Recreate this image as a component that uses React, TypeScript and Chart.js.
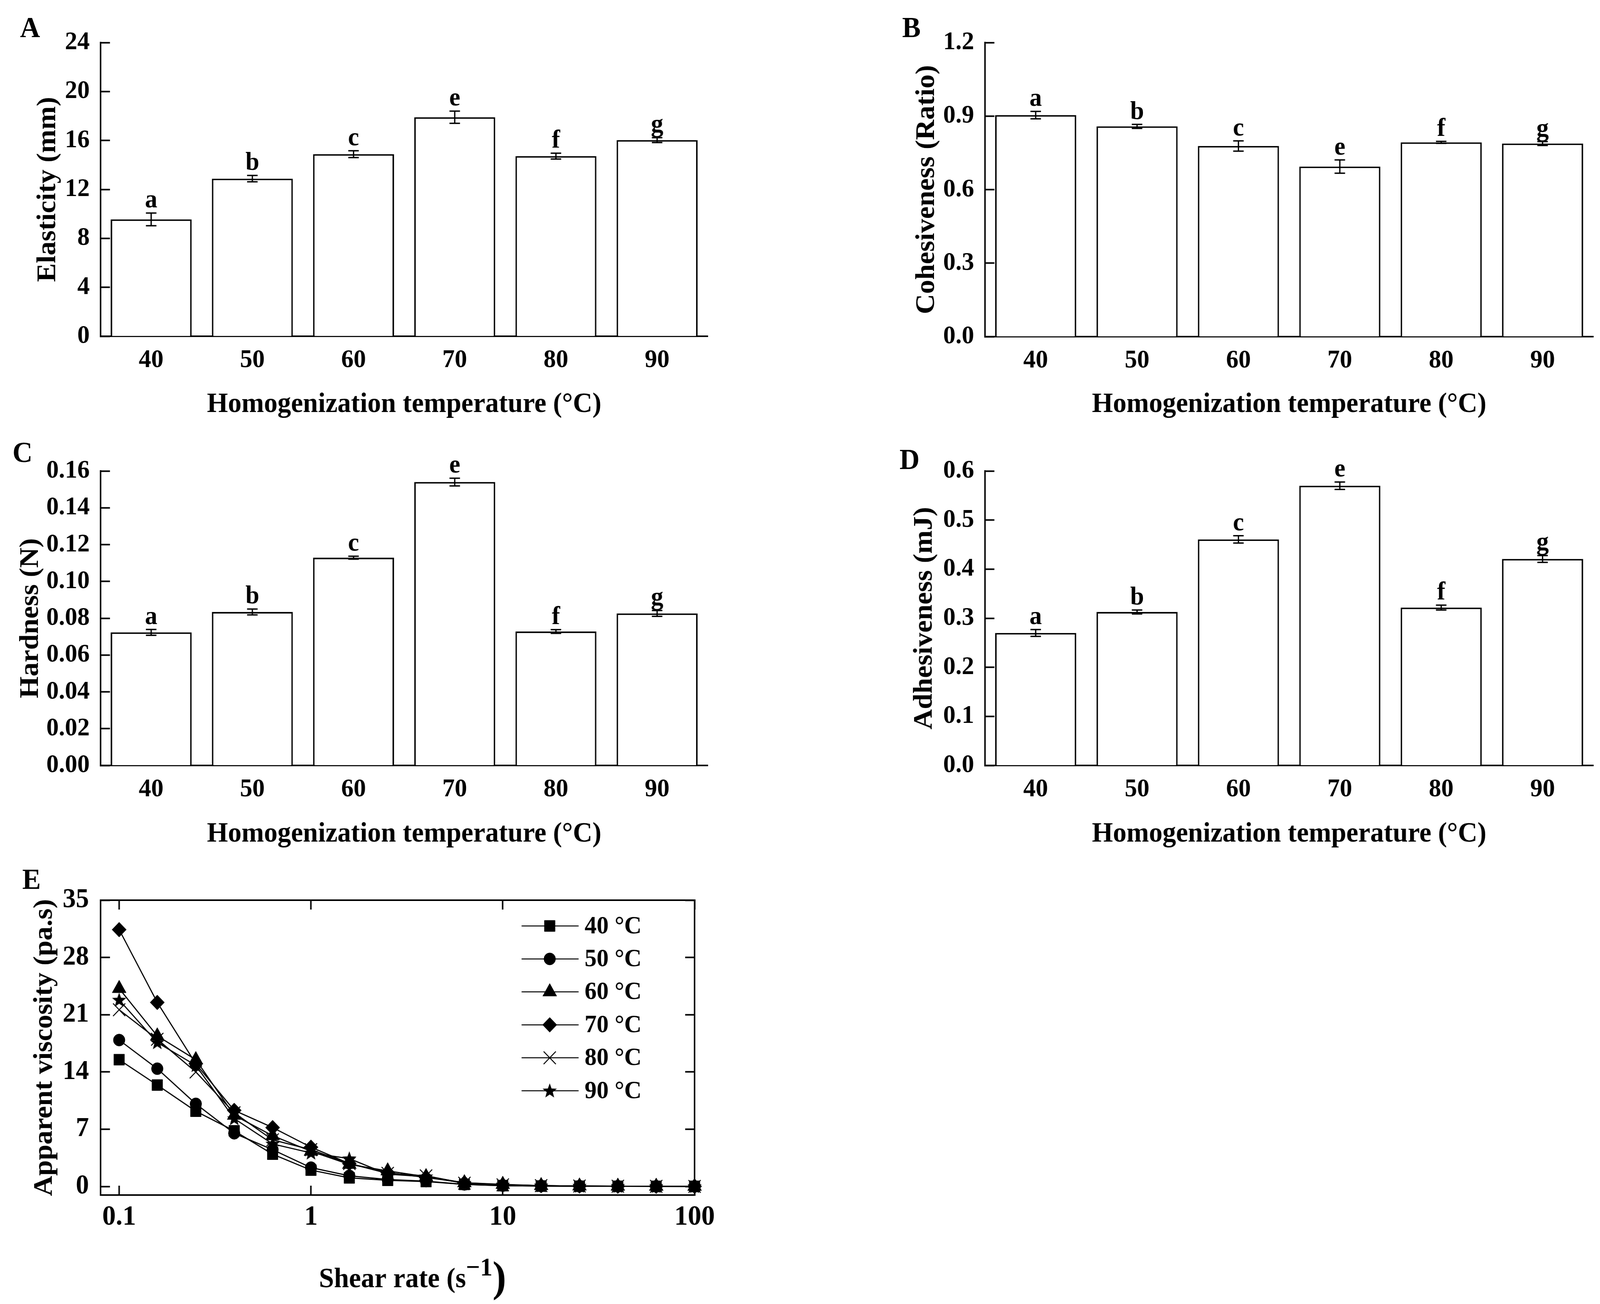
import { useEffect, useRef } from "react"
import { Chart, registerables } from "chart.js"
import { drawPoint } from "chart.js/helpers"

Chart.register(...registerables)

const SERIF = '"Liberation Serif", "Times New Roman", Times, serif'

// 均质温度
const temperatures = ["40", "50", "60", "70", "80", "90"]
const letters = ["a", "b", "c", "e", "f", "g"]

// A 弹性
const elasticity = [9.55, 12.88, 14.88, 17.9, 14.72, 16.03]
const elasticityErr = [0.52, 0.26, 0.28, 0.5, 0.24, 0.2]
const elasticityTicks = [0, 4, 8, 12, 16, 20, 24]

// B 内聚性
const cohesiveness = [0.904, 0.858, 0.778, 0.694, 0.793, 0.788]
const cohesivenessErr = [0.015, 0.008, 0.021, 0.027, 0.004, 0.008]
const cohesivenessTicks = [0, 0.3, 0.6, 0.9, 1.2]

// C 硬度
const hardness = [0.0723, 0.0834, 0.1129, 0.154, 0.0728, 0.0826]
const hardnessErr = [0.0016, 0.0016, 0.0008, 0.0021, 0.001, 0.0016]
const hardnessTicks = [0, 0.02, 0.04, 0.06, 0.08, 0.1, 0.12, 0.14, 0.16]

// D 黏附性
const adhesiveness = [0.27, 0.3127, 0.4606, 0.57, 0.3217, 0.4208]
const adhesivenessErr = [0.007, 0.004, 0.0075, 0.0075, 0.005, 0.007]
const adhesivenessTicks = [0, 0.1, 0.2, 0.3, 0.4, 0.5, 0.6]

// E 表观黏度
const shearRates = [0.1, 0.158, 0.251, 0.398, 0.631, 1, 1.585, 2.512, 3.981, 6.31, 10, 15.85, 25.12, 39.81, 63.1, 100]
const seriesLabels = ["40 °C", "50 °C", "60 °C", "70 °C", "80 °C", "90 °C"]
const visc40 = [15.5, 12.4, 9.2, 6.8, 3.95, 2.0, 1.05, 0.75, 0.6, 0.25, 0.1, 0.05, 0.03, 0.02, 0.01, 0.01]
const visc50 = [17.9, 14.4, 10.1, 6.5, 4.5, 2.3, 1.3, 0.85, 0.65, 0.25, 0.1, 0.05, 0.03, 0.02, 0.01, 0.01]
const visc60 = [24.2, 18.4, 15.5, 8.7, 6.2, 4.3, 2.7, 1.9, 1.2, 0.45, 0.25, 0.1, 0.05, 0.03, 0.02, 0.01]
const visc70 = [31.4, 22.5, 15.0, 9.3, 7.2, 4.8, 2.8, 1.7, 1.1, 0.45, 0.2, 0.1, 0.05, 0.03, 0.02, 0.01]
const visc80 = [21.6, 18.0, 14.0, 9.0, 5.7, 4.5, 2.8, 1.6, 1.3, 0.4, 0.2, 0.1, 0.05, 0.03, 0.02, 0.01]
const visc90 = [22.8, 17.6, 14.8, 8.3, 5.2, 4.1, 3.4, 1.5, 1.2, 0.4, 0.2, 0.1, 0.05, 0.03, 0.02, 0.01]
const viscosityTicks = [0, 7, 14, 21, 28, 35]
const shearTicks = [0.1, 1, 10, 100]

const PAGE_W = 4264
const PAGE_H = 3339

const tickFont = { family: SERIF, size: 66, weight: "bold" as const, lineHeight: 1 }
const titleFont = { family: SERIF, size: 72, weight: "bold" as const, lineHeight: 1 }

interface Area {
  left: number
  right: number
  top: number
  bottom: number
}

// 误差线和显著性字母
const errorBarPlugin = {
  id: "errorBars",
  afterDatasetsDraw(chart: any, _args: any, opts: any) {
    const { ctx } = chart
    const y = chart.scales.y
    const meta = chart.getDatasetMeta(0)
    const values = chart.data.datasets[0].data
    ctx.save()
    ctx.strokeStyle = "#000"
    ctx.lineWidth = 3.5
    ctx.fillStyle = "#000"
    ctx.font = `bold 66px ${SERIF}`
    ctx.textAlign = "center"
    ctx.textBaseline = "alphabetic"
    meta.data.forEach((bar: any, i: number) => {
      const v = values[i]
      const e = opts.errors[i]
      const yTop = y.getPixelForValue(v + e)
      const yBot = y.getPixelForValue(v - e)
      const x = bar.x
      ctx.beginPath()
      ctx.moveTo(x, yTop)
      ctx.lineTo(x, yBot)
      ctx.moveTo(x - 14, yTop)
      ctx.lineTo(x + 14, yTop)
      ctx.moveTo(x - 14, yBot)
      ctx.lineTo(x + 14, yBot)
      ctx.stroke()
      ctx.fillText(opts.letters[i], x, yTop - 14)
    })
    ctx.restore()
  },
}

interface BarPanelProps {
  values: number[]
  errors: number[]
  ticks: number[]
  decimals: number
  yTitle: string
  yTitleX: number
  left: number
  top: number
  width: number
  height: number
  area: Area
}

function BarPanel({ values, errors, ticks, decimals, yTitle, yTitleX, left, top, width, height, area }: BarPanelProps) {
  const chartRef = useRef<HTMLCanvasElement>(null)

  useEffect(() => {
    if (!chartRef.current) return
    const chart = new Chart(chartRef.current, {
      type: "bar",
      data: {
        labels: temperatures,
        datasets: [
          {
            data: values,
            backgroundColor: "#fff",
            borderColor: "#000",
            borderWidth: 4,
            barPercentage: 0.8,
            categoryPercentage: 1,
          },
        ],
      },
      options: {
        responsive: false,
        animation: false,
        events: [],
        layout: { padding: { left: 0, top: area.top, right: width - area.right, bottom: 0 } },
        plugins: {
          legend: { display: false },
          tooltip: { enabled: false },
          errorBars: { errors, letters },
        } as any,
        scales: {
          x: {
            offset: true,
            z: 1,
            grid: { offset: false, drawOnChartArea: false, tickLength: -23, tickWidth: 3.5, tickColor: "#000" },
            border: { color: "#000", width: 4 },
            ticks: { color: "#000", font: tickFont, padding: 52 },
            title: {
              display: true,
              text: "Homogenization temperature (°C)",
              color: "#000",
              font: titleFont,
              padding: { top: 0, bottom: 28 },
            },
            afterFit: (scale: any) => {
              scale.height = height - area.bottom
            },
          },
          y: {
            min: ticks[0],
            max: ticks[ticks.length - 1],
            grid: { drawOnChartArea: false, tickLength: -25, tickWidth: 4, tickColor: "#000" },
            border: { color: "#000", width: 4 },
            ticks: {
              color: "#000",
              font: tickFont,
              padding: 54,
              callback: (v: any) => Number(v).toFixed(decimals),
            },
            afterBuildTicks: (scale: any) => {
              scale.ticks = ticks.map((value) => ({ value }))
            },
            title: {
              display: true,
              text: yTitle,
              color: "#000",
              font: titleFont,
              padding: { top: yTitleX - 36, bottom: 0 },
            },
            afterFit: (scale: any) => {
              scale.width = area.left
            },
          },
        },
      },
      plugins: [errorBarPlugin],
    })
    return () => chart.destroy()
  }, [])

  return <canvas ref={chartRef} width={width} height={height} style={{ position: "absolute", left, top }} />
}

function makeStar(size: number) {
  const c = document.createElement("canvas")
  c.width = size
  c.height = size
  const g = c.getContext("2d")!
  const R = size / 2
  const r = R * 0.42
  g.beginPath()
  for (let i = 0; i < 10; i++) {
    const a = -Math.PI / 2 + (i * Math.PI) / 5
    const rad = i % 2 === 0 ? R : r
    g.lineTo(R + rad * Math.cos(a), R + 1 + rad * Math.sin(a))
  }
  g.closePath()
  g.fillStyle = "#000"
  g.fill()
  return c
}

// 图例: 线 + 标记
const markerLegendPlugin = {
  id: "markerLegend",
  afterDraw(chart: any) {
    const { ctx, chartArea } = chart
    ctx.save()
    chart.data.datasets.forEach((ds: any, i: number) => {
      const y = chartArea.top + 66 + i * 84.4
      ctx.strokeStyle = "#000"
      ctx.lineWidth = 2.5
      ctx.beginPath()
      ctx.moveTo(chartArea.right - 461, y)
      ctx.lineTo(chartArea.right - 309, y)
      ctx.stroke()
      ctx.fillStyle = "#000"
      ctx.lineWidth = ds.pointBorderWidth
      drawPoint(ctx, { pointStyle: ds.pointStyle, radius: ds.pointRadius, rotation: 0, borderWidth: ds.pointBorderWidth }, chartArea.right - 386, y)
      ctx.font = `bold 64px ${SERIF}`
      ctx.textAlign = "left"
      ctx.textBaseline = "middle"
      ctx.fillText(ds.label, chartArea.right - 293, y + 2)
    })
    ctx.restore()
  },
}

// 横轴标题带上标
const shearTitlePlugin = {
  id: "shearTitle",
  afterDraw(chart: any) {
    const { ctx, chartArea } = chart
    const main = "Shear rate (s"
    const sup = "\u22121"
    const close = ")"
    ctx.save()
    ctx.fillStyle = "#000"
    ctx.textAlign = "left"
    ctx.textBaseline = "alphabetic"
    ctx.font = `bold 72px ${SERIF}`
    const w1 = ctx.measureText(main).width
    ctx.font = `bold 66px ${SERIF}`
    const w2 = ctx.measureText(sup).width
    ctx.font = `bold 110px ${SERIF}`
    const w3 = ctx.measureText(close).width
    const base = chartArea.bottom + 236
    let x = (chartArea.left + chartArea.right) / 2 + 40 - (w1 + w2 + w3) / 2
    ctx.font = `bold 72px ${SERIF}`
    ctx.fillText(main, x, base)
    x += w1
    ctx.font = `bold 66px ${SERIF}`
    ctx.fillText(sup, x, base - 30)
    x += w2
    ctx.font = `bold 110px ${SERIF}`
    ctx.fillText(close, x, base + 10)
    ctx.restore()
  },
}

function ViscosityPanel({ left, top, width, height, area }: { left: number; top: number; width: number; height: number; area: Area }) {
  const chartRef = useRef<HTMLCanvasElement>(null)

  useEffect(() => {
    if (!chartRef.current) return
    const star = makeStar(40)
    const series = [visc40, visc50, visc60, visc70, visc80, visc90]
    const styles: any[] = ["rect", "circle", "triangle", "rectRot", "crossRot", star]
    const radii = [20, 15.5, 21.5, 19, 23, 20]
    const borderWidths = [1, 1, 1, 1, 2.5, 1]

    const logTicks = (scale: any) => {
      scale.ticks = shearTicks.map((value) => ({ value }))
    }
    const linTicks = (scale: any) => {
      scale.ticks = viscosityTicks.map((value) => ({ value }))
    }

    const chart = new Chart(chartRef.current, {
      type: "line",
      data: {
        datasets: series.map((vals, i) => ({
          label: seriesLabels[i],
          data: shearRates.map((x, j) => ({ x, y: vals[j] })),
          borderColor: "#000",
          backgroundColor: "#000",
          borderWidth: 3,
          pointStyle: styles[i],
          pointRadius: radii[i],
          pointBorderWidth: borderWidths[i],
          pointBackgroundColor: "#000",
          pointBorderColor: "#000",
          tension: 0,
          fill: false,
          clip: false as any,
        })),
      },
      options: {
        responsive: false,
        animation: false,
        events: [],
        layout: { padding: { left: 0, top: area.top, right: width - area.right, bottom: 0 } },
        plugins: { legend: { display: false }, tooltip: { enabled: false } },
        scales: {
          x: {
            type: "logarithmic",
            min: 0.08,
            max: 100,
            grid: { drawOnChartArea: false, tickLength: -24, tickWidth: 4, tickColor: "#000" },
            border: { color: "#000", width: 4 },
            ticks: { color: "#000", font: { ...tickFont, size: 72 }, padding: 45, callback: (v: any) => String(v) },
            afterBuildTicks: logTicks,
            afterFit: (scale: any) => {
              scale.height = height - area.bottom
            },
          },
          x2: {
            type: "logarithmic",
            position: "top",
            min: 0.08,
            max: 100,
            grid: { drawOnChartArea: false, tickLength: -24, tickWidth: 4, tickColor: "#000" },
            border: { color: "#000", width: 4 },
            ticks: { display: false },
            afterBuildTicks: logTicks,
            afterFit: (scale: any) => {
              scale.height = 0
            },
          },
          y: {
            min: -1.05,
            max: 35,
            grid: { drawOnChartArea: false, tickLength: -25, tickWidth: 4, tickColor: "#000" },
            border: { color: "#000", width: 4 },
            ticks: { color: "#000", font: { ...tickFont, size: 70 }, padding: 56 },
            afterBuildTicks: linTicks,
            title: {
              display: true,
              text: "Apparent viscosity (pa.s)",
              color: "#000",
              font: titleFont,
              padding: { top: 119 - 36, bottom: 0 },
            },
            afterFit: (scale: any) => {
              scale.width = area.left
            },
          },
          y2: {
            position: "right",
            min: -1.05,
            max: 35,
            grid: { drawOnChartArea: false, tickLength: -25, tickWidth: 4, tickColor: "#000" },
            border: { color: "#000", width: 4 },
            ticks: { display: false },
            afterBuildTicks: linTicks,
            afterFit: (scale: any) => {
              scale.width = 0
            },
          },
        },
      } as any,
      plugins: [markerLegendPlugin, shearTitlePlugin],
    })
    return () => chart.destroy()
  }, [])

  return <canvas ref={chartRef} width={width} height={height} style={{ position: "absolute", left, top }} />
}

function PanelLabel({ text, x, y }: { text: string; x: number; y: number }) {
  return (
    <div
      style={{
        position: "absolute",
        left: x,
        top: y,
        transform: "translate(-50%, -50%)",
        font: `bold 74px ${SERIF}`,
        lineHeight: 1,
        color: "#000",
      }}
    >
      {text}
    </div>
  )
}

export default function App() {
  // 页面按窗口大小缩放，保证整幅图都在画面内
  const sx = window.innerWidth / PAGE_W
  const sy = window.innerHeight / PAGE_H

  return (
    <div style={{ position: "fixed", left: 0, top: 0, width: "100vw", height: "100vh", overflow: "hidden", background: "#fff" }}>
      <div
        style={{
          position: "absolute",
          left: 0,
          top: 0,
          width: PAGE_W,
          height: PAGE_H,
          background: "#fff",
          transform: `scale(${sx}, ${sy})`,
          transformOrigin: "0 0",
        }}
      >
        <BarPanel
          values={elasticity}
          errors={elasticityErr}
          ticks={elasticityTicks}
          decimals={0}
          yTitle="Elasticity (mm)"
          yTitleX={128}
          left={0}
          top={0}
          width={1950}
          height={1100}
          area={{ left: 268, right: 1886, top: 109, bottom: 861 }}
        />
        <BarPanel
          values={cohesiveness}
          errors={cohesivenessErr}
          ticks={cohesivenessTicks}
          decimals={1}
          yTitle="Cohesiveness (Ratio)"
          yTitleX={170}
          left={2300}
          top={0}
          width={1964}
          height={1100}
          area={{ left: 325, right: 1946, top: 109, bottom: 862 }}
        />
        <BarPanel
          values={hardness}
          errors={hardnessErr}
          ticks={hardnessTicks}
          decimals={2}
          yTitle="Hardness (N)"
          yTitleX={82}
          left={0}
          top={1100}
          width={1950}
          height={1100}
          area={{ left: 268, right: 1886, top: 106, bottom: 860 }}
        />
        <BarPanel
          values={adhesiveness}
          errors={adhesivenessErr}
          ticks={adhesivenessTicks}
          decimals={1}
          yTitle="Adhesiveness (mJ)"
          yTitleX={164}
          left={2300}
          top={1100}
          width={1964}
          height={1100}
          area={{ left: 325, right: 1946, top: 106, bottom: 860 }}
        />
        <ViscosityPanel left={0} top={2200} width={1950} height={1139} area={{ left: 268, right: 1883, top: 105, bottom: 860 }} />
        <PanelLabel text="A" x={80} y={70} />
        <PanelLabel text="B" x={2429} y={70} />
        <PanelLabel text="C" x={60} y={1158} />
        <PanelLabel text="D" x={2424} y={1176} />
        <PanelLabel text="E" x={84} y={2251} />
      </div>
    </div>
  )
}
